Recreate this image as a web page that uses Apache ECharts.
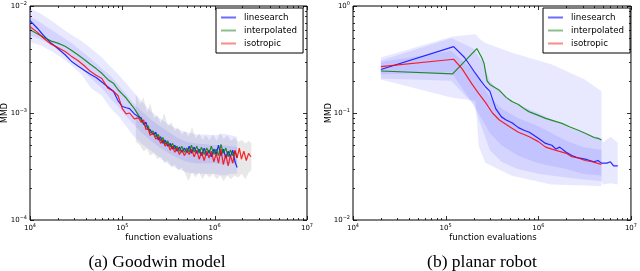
<!DOCTYPE html>
<html><head><meta charset="utf-8">
<script src="https://cdn.jsdelivr.net/npm/echarts@6/dist/echarts.min.js"></script>
<style>html,body{margin:0;padding:0;background:#fff}#c{width:640px;height:271px}</style>
</head><body><div id="c"></div>
<script>
// ---------- labels ----------
const seriesNames = ['linesearch', 'interpolated', 'isotropic'];
const captions = ['(a) Goodwin model', '(b) planar robot'];
const xTickExp = [4, 5, 6, 7];
const yTickExpG = [-4, -3, -2];
const yTickExpR = [-2, -1, 0];

// ---------- (a) Goodwin model ----------
const xG = [1.0e4,1.2e4,1.4e4,1.7e4,2.0e4,2.4e4,2.8e4,3.3e4,3.9e4,4.5e4,5.2e4,6.0e4,7.0e4,8.0e4,9.0e4,1.0e5,1.1e5,1.2e5,1.35e5,1.5e5,
  1.6e5,1.7e5,1.8e5,1.9e5,2.0e5,2.15e5,2.3e5,2.45e5,2.6e5,2.75e5,2.9e5,3.1e5,3.3e5,3.5e5,3.7e5,3.9e5,4.15e5,4.4e5,4.7e5,5.0e5,
  5.3e5,5.6e5,6.0e5,6.4e5,6.8e5,7.2e5,7.7e5,8.2e5,8.7e5,9.2e5,9.8e5,1.04e6,1.1e6,1.17e6,1.24e6,1.32e6,1.4e6,1.48e6,1.57e6,1.66e6,
  1.75e6,1.85e6,1.95e6,2.07e6,2.2e6,2.33e6,2.47e6];
const blueG = [7.3e-3,6.2e-3,5.3e-3,4.5e-3,4.0e-3,3.5e-3,3.05e-3,2.75e-3,2.5e-3,2.3e-3,2.15e-3,1.95e-3,1.75e-3,1.6e-3,1.3e-3,1.15e-3,1.12e-3,1.1e-3,9.8e-4,9.2e-4,
  9.0e-4,7.8e-4,8.2e-4,7.0e-4,7.0e-4,6.3e-4,6.6e-4,5.6e-4,6.0e-4,5.2e-4,5.6e-4,4.9e-4,5.2e-4,4.6e-4,5.0e-4,4.4e-4,4.8e-4,4.3e-4,4.7e-4,4.3e-4,
  4.9e-4,4.2e-4,4.8e-4,4.2e-4,4.6e-4,4.0e-4,4.7e-4,4.0e-4,4.5e-4,3.9e-4,4.6e-4,4.1e-4,5.0e-4,4.0e-4,4.6e-4,3.8e-4,4.4e-4,3.9e-4,4.5e-4,3.5e-4,
  3.1e-4,null,null,null,null,null,null];
const greenG = [6.0e-3,5.5e-3,5.1e-3,4.7e-3,4.5e-3,4.2e-3,3.85e-3,3.5e-3,3.15e-3,2.85e-3,2.6e-3,2.35e-3,2.05e-3,1.9e-3,1.65e-3,1.5e-3,1.38e-3,1.25e-3,1.1e-3,9.5e-4,
  8.6e-4,8.0e-4,7.4e-4,7.6e-4,6.5e-4,6.8e-4,6.0e-4,6.3e-4,5.5e-4,5.9e-4,5.1e-4,5.5e-4,4.8e-4,5.2e-4,4.6e-4,4.9e-4,4.4e-4,4.9e-4,4.3e-4,4.7e-4,
  4.3e-4,5.0e-4,4.3e-4,4.9e-4,4.2e-4,4.8e-4,4.1e-4,4.7e-4,4.2e-4,4.9e-4,4.1e-4,4.6e-4,4.0e-4,5.1e-4,4.2e-4,4.7e-4,3.9e-4,4.5e-4,4.0e-4,4.4e-4,
  3.8e-4,null,null,null,null,null,null];
const redG = [6.4e-3,5.7e-3,5.0e-3,4.4e-3,4.1e-3,3.75e-3,3.4e-3,3.1e-3,2.75e-3,2.45e-3,2.25e-3,2.1e-3,1.7e-3,1.6e-3,1.45e-3,1.1e-3,9.8e-4,1.0e-3,8.8e-4,9.0e-4,
  8.2e-4,8.6e-4,7.0e-4,7.2e-4,6.2e-4,6.5e-4,5.7e-4,6.0e-4,5.2e-4,5.6e-4,4.9e-4,5.2e-4,4.5e-4,4.9e-4,4.3e-4,4.7e-4,4.1e-4,4.5e-4,4.0e-4,4.4e-4,
  4.1e-4,4.6e-4,3.9e-4,4.5e-4,3.7e-4,4.3e-4,3.6e-4,4.4e-4,3.8e-4,4.4e-4,3.5e-4,4.2e-4,3.4e-4,4.6e-4,3.3e-4,4.1e-4,3.2e-4,4.0e-4,3.4e-4,4.5e-4,
  3.8e-4,4.7e-4,3.7e-4,4.4e-4,3.6e-4,4.2e-4,3.9e-4];
// bands (a)
const xBandG = [1e4,1.3e4,1.7e4,2.2e4,2.8e4,3.6e4,4.6e4,6e4,7.5e4,9e4,1.1e5,1.3e5,1.6e5,2e5,2.5e5,3.2e5,4e5,5e5,6.3e5,8e5,1e6,1.25e6,1.5e6,1.75e6];
const outerUpG = [9.5e-3,8.5e-3,7.3e-3,6.2e-3,5.4e-3,4.7e-3,4.0e-3,3.3e-3,2.7e-3,2.3e-3,1.9e-3,1.6e-3,1.3e-3,1.05e-3,9.0e-4,7.8e-4,7.0e-4,6.6e-4,6.3e-4,6.3e-4,6.2e-4,6.4e-4,6.2e-4,6e-4];
const outerLoG = [4.6e-3,4.3e-3,3.8e-3,3.3e-3,2.8e-3,2.3e-3,1.7e-3,1.45e-3,1.1e-3,9.5e-4,7.5e-4,6.2e-4,5.2e-4,4.5e-4,3.9e-4,3.3e-4,3.0e-4,2.8e-4,2.7e-4,2.7e-4,2.7e-4,2.6e-4,2.7e-4,2.7e-4];
const innerUpG = [8e-3,7e-3,6e-3,5.2e-3,4.5e-3,3.8e-3,3.2e-3,2.6e-3,2.2e-3,1.85e-3,1.5e-3,1.25e-3,1.05e-3,8.8e-4,7.6e-4,6.6e-4,5.8e-4,5.4e-4,5.2e-4,5.1e-4,5.0e-4,5.0e-4,4.9e-4,4.8e-4];
const innerLoG = [5.3e-3,4.9e-3,4.3e-3,3.8e-3,3.2e-3,2.6e-3,2.1e-3,1.7e-3,1.35e-3,1.15e-3,9.3e-4,8.0e-4,6.6e-4,5.6e-4,4.8e-4,4.2e-4,3.8e-4,3.5e-4,3.4e-4,3.4e-4,3.4e-4,3.3e-4,3.4e-4,3.3e-4];
const xGrayG = [1.4e5,1.55e5,1.7e5,1.85e5,2e5,2.2e5,2.4e5,2.6e5,2.85e5,3.1e5,3.4e5,3.7e5,4e5,4.4e5,4.8e5,5.2e5,5.7e5,6.2e5,6.8e5,7.4e5,8e5,8.8e5,9.6e5,1.05e6,1.15e6,1.25e6,1.37e6,1.5e6,1.64e6,1.8e6,1.97e6,2.15e6,2.35e6,2.5e6];
const grayUpG = [1.5e-3,1.2e-3,1.4e-3,1.0e-3,1.24e-3,9.0e-4,9.5e-4,8.0e-4,1.0e-3,7.5e-4,8.2e-4,6.8e-4,7.4e-4,6.3e-4,6.8e-4,6.0e-4,7.4e-4,5.8e-4,6.4e-4,5.6e-4,6.2e-4,5.6e-4,6.3e-4,5.5e-4,6.5e-4,5.7e-4,6.2e-4,5.5e-4,5.9e-4,5.4e-4,5.6e-4,5.2e-4,5.5e-4,5.2e-4];
const grayLoG = [5.4e-4,5.0e-4,4.4e-4,4.6e-4,4.0e-4,4.2e-4,3.7e-4,3.9e-4,3.4e-4,3.6e-4,3.1e-4,3.3e-4,2.9e-4,3.1e-4,2.7e-4,2.3e-4,2.8e-4,2.5e-4,2.8e-4,2.4e-4,2.7e-4,2.5e-4,2.7e-4,2.4e-4,2.6e-4,2.3e-4,2.6e-4,2.4e-4,2.6e-4,2.5e-4,2.7e-4,2.4e-4,2.8e-4,2.9e-4];

// ---------- (b) planar robot ----------
const xBlueR = [2e4,1.22e5,1.6e5,2.04e5,2.4e5,2.7e5,3e5,3.47e5,4e5,4.5e5,5.2e5,6.1e5,7e5,8e5,1e6,1.2e6,1.4e6,1.55e6,1.7e6,2e6,2.3e6,2.7e6,3.2e6,3.6e6,4e6,4.4e6,4.8e6,5.5e6,6e6,6.5e6,7.2e6];
const blueR = [0.255,0.417,0.33,0.243,0.2,0.175,0.16,0.11,0.092,0.086,0.081,0.073,0.069,0.066,0.058,0.052,0.05,0.046,0.048,0.043,0.04,0.038,0.037,0.036,0.035,0.036,0.034,0.034,0.035,0.032,0.032];
const xGreenR = [2e4,1.19e5,2.17e5,2.45e5,2.6e5,2.8e5,3e5,3.76e5,4.5e5,5.2e5,6.1e5,7e5,7.9e5,1e6,1.2e6,1.5e6,1.8e6,2.2e6,2.7e6,3.3e6,4e6,4.4e6,4.8e6];
const greenR = [0.247,0.232,0.40,0.33,0.29,0.2,0.185,0.164,0.14,0.128,0.12,0.11,0.103,0.095,0.089,0.084,0.08,0.074,0.069,0.064,0.059,0.058,0.056];
const xRedR = [2e4,1.22e5,1.5e5,1.95e5,2.3e5,2.7e5,3.2e5,3.8e5,4.5e5,5.2e5,6.1e5,7e5,8e5,1e6,1.2e6,1.4e6,1.66e6,2e6,2.3e6,2.7e6,3.2e6,3.8e6,4.3e6,4.8e6];
const redR = [0.271,0.318,0.26,0.183,0.15,0.125,0.1,0.086,0.078,0.072,0.066,0.063,0.06,0.054,0.048,0.046,0.044,0.042,0.039,0.038,0.036,0.035,0.034,0.033];
// bands (b)
const xBandA = [2e4,1.18e5,2.1e5,2.28e5,2.68e5,5.2e5,1.38e6,3.17e6,4.8e6];
const bandAUp = [0.33,0.52,0.545,0.5,0.45,0.366,0.285,0.206,0.16];
const bandALo = [0.206,0.139,0.13,0.049,0.0343,0.0259,0.0215,0.021,0.0207];
const xBandB = [2e4,1.15e5,2e5,2.5e5,3e5,4e5,6e5,1e6,2e6,3e6,4.8e6,5e6,6e6,7.2e6];
const bandBUp = [0.31,0.5,0.4,0.3,0.2,0.15,0.12,0.1,0.075,0.065,0.058,0.053,0.06,0.053];
const bandBLo = [0.21,0.2,0.12,0.07,0.045,0.035,0.03,0.027,0.025,0.024,0.023,0.0215,0.022,0.0215];
const xBandC = [2e4,1.15e5,2e5,3e5,4e5,6e5,1e6,2e6,3e6,4.8e6];
const bandCUp = [0.3,0.38,0.25,0.14,0.11,0.09,0.075,0.055,0.048,0.045];
const bandCLo = [0.23,0.24,0.12,0.065,0.05,0.04,0.034,0.03,0.027,0.026];

// ---------- styles ----------
const colors = ['rgba(20,20,255,0.9)', 'rgba(0,128,0,0.85)', 'rgba(255,0,0,0.85)'];
const legendColors = ['rgba(60,60,255,0.75)', 'rgba(60,150,60,0.6)', 'rgba(255,60,60,0.6)'];
const bandFill = 'rgba(90,90,255,0.14)';
const grayFill = 'rgba(120,120,120,0.17)';
const sans = '"DejaVu Sans", sans-serif';

function pairs(xs, ys) {
  const out = [];
  xs.forEach((x, i) => { if (ys[i] != null) out.push([x, ys[i]]); });
  return out;
}
function band(gi, xs, up, lo, fill, z) {
  return {
    type: 'custom', xAxisIndex: gi, yAxisIndex: gi, silent: true, z: z,
    data: [[xs[0], up[0]]],
    renderItem: function (params, api) {
      const pts = [];
      for (let i = 0; i < xs.length; i++) pts.push(api.coord([xs[i], up[i]]));
      for (let i = xs.length - 1; i >= 0; i--) pts.push(api.coord([xs[i], lo[i]]));
      return { type: 'polygon', shape: { points: pts }, style: { fill: fill } };
    }
  };
}
function line(gi, name, xs, ys, color, z) {
  return {
    type: 'line', name: name, xAxisIndex: gi, yAxisIndex: gi, data: pairs(xs, ys),
    symbol: 'none', z: z, lineStyle: { color: color, width: 1.2 }, itemStyle: { color: color },
    emphasis: { disabled: true }
  };
}
function ticks(gi, xe, ye) {
  const data = [];
  const x0 = Math.pow(10, xe[0]), y0 = Math.pow(10, ye[0]);
  for (let e = xe[0]; e <= xe[xe.length - 1]; e++) {
    data.push([Math.pow(10, e), y0, 1, 0]);
    if (e < xe[xe.length - 1]) for (let m = 2; m <= 9; m++) data.push([m * Math.pow(10, e), y0, 0, 0]);
  }
  for (let e = ye[0]; e <= ye[ye.length - 1]; e++) {
    data.push([x0, Math.pow(10, e), 1, 1]);
    if (e < ye[ye.length - 1]) for (let m = 2; m <= 9; m++) data.push([x0, m * Math.pow(10, e), 0, 1]);
  }
  return {
    type: 'custom', xAxisIndex: gi, yAxisIndex: gi, silent: true, z: 10, clip: false,
    encode: { x: 0, y: 1 }, data: data,
    renderItem: function (params, api) {
      const cs = params.coordSys;
      const p = api.coord([api.value(0), api.value(1)]);
      const len = api.value(2) ? 4 : 2;
      const st = { stroke: '#000', lineWidth: 0.8 };
      if (api.value(3) === 0) {
        const x = Math.round(p[0]) + 0.5;
        return { type: 'group', children: [
          { type: 'line', shape: { x1: x, y1: cs.y + cs.height, x2: x, y2: cs.y + cs.height - len }, style: st },
          { type: 'line', shape: { x1: x, y1: cs.y, x2: x, y2: cs.y + len }, style: st }
        ]};
      } else {
        const y = Math.round(p[1]) + 0.5;
        return { type: 'group', children: [
          { type: 'line', shape: { x1: cs.x, y1: y, x2: cs.x + len, y2: y }, style: st },
          { type: 'line', shape: { x1: cs.x + cs.width, y1: y, x2: cs.x + cs.width - len, y2: y }, style: st }
        ]};
      }
    }
  };
}
function expLabel(v) {
  const e = Math.round(Math.log10(v));
  return '{b|10}{s|' + String(e).replace('-', '\u2212') + '}';
}
const richLab = {
  b: { fontSize: 7, fontFamily: sans, color: '#000', lineHeight: 10 },
  s: { fontSize: 5, fontFamily: sans, color: '#000', verticalAlign: 'top', lineHeight: 10, padding: [0, 0, 4, 0] }
};
function xAx(gi, e) {
  return { gridIndex: gi, type: 'log', logBase: 10, min: Math.pow(10, e[0]), max: Math.pow(10, e[e.length - 1]),
    axisLine: { show: false }, axisTick: { show: false }, splitLine: { show: false },
    axisLabel: { formatter: expLabel, rich: richLab, margin: 3 } };
}
function yAx(gi, e) {
  return { gridIndex: gi, type: 'log', logBase: 10, min: Math.pow(10, e[0]), max: Math.pow(10, e[e.length - 1]),
    axisLine: { show: false }, axisTick: { show: false }, splitLine: { show: false },
    axisLabel: { formatter: expLabel, rich: richLab, margin: 3 } };
}
function legend(left) {
  return {
    left: left, top: 8, orient: 'vertical', itemWidth: 15, itemHeight: 2, itemGap: 2, icon: 'rect',
    padding: [4, 6, 4, 5], borderColor: '#000', borderWidth: 1, backgroundColor: '#fff', selectedMode: false,
    textStyle: { fontFamily: sans, fontSize: 8.7, color: '#000', padding: [0, 0, 0, 3], lineHeight: 11 },
    data: seriesNames.map((n, i) => ({ name: n, itemStyle: { color: legendColors[i] } }))
  };
}

const option = {
  animation: false,
  backgroundColor: '#fff',
  grid: [
    { left: 30, top: 6, width: 277, height: 214, show: true, borderColor: '#000', borderWidth: 1, backgroundColor: 'transparent' },
    { left: 353, top: 6, width: 280, height: 214, show: true, borderColor: '#000', borderWidth: 1, backgroundColor: 'transparent' }
  ],
  xAxis: [xAx(0, xTickExp), xAx(1, xTickExp)],
  yAxis: [yAx(0, yTickExpG), yAx(1, yTickExpR)],
  legend: [legend(216), legend(543)],
  series: [
    band(0, xGrayG, grayUpG, grayLoG, grayFill, 1),
    band(0, xBandG, outerUpG, outerLoG, bandFill, 1),
    band(0, xBandG, innerUpG, innerLoG, bandFill, 1),
    line(0, seriesNames[0], xG, blueG, colors[0], 3),
    line(0, seriesNames[1], xG, greenG, colors[1], 3),
    line(0, seriesNames[2], xG, redG, colors[2], 4),
    ticks(0, xTickExp, yTickExpG),
    band(1, xBandA, bandAUp, bandALo, bandFill, 1),
    band(1, xBandB, bandBUp, bandBLo, bandFill, 1),
    band(1, xBandC, bandCUp, bandCLo, bandFill, 1),
    line(1, seriesNames[1], xGreenR, greenR, colors[1], 3),
    line(1, seriesNames[0], xBlueR, blueR, colors[0], 3),
    line(1, seriesNames[2], xRedR, redR, colors[2], 4),
    ticks(1, xTickExp, yTickExpR)
  ],
  graphic: [
    { type: 'text', x: 5, y: 113, rotation: Math.PI / 2, style: { text: 'MMD', font: '8px ' + sans, fill: '#000', textAlign: 'center', textVerticalAlign: 'middle' } },
    { type: 'text', x: 329, y: 113, rotation: Math.PI / 2, style: { text: 'MMD', font: '8px ' + sans, fill: '#000', textAlign: 'center', textVerticalAlign: 'middle' } },
    { type: 'text', x: 169, y: 238, style: { text: 'function evaluations', font: '8.6px ' + sans, fill: '#000', textAlign: 'center', textVerticalAlign: 'middle' } },
    { type: 'text', x: 493, y: 238, style: { text: 'function evaluations', font: '8.6px ' + sans, fill: '#000', textAlign: 'center', textVerticalAlign: 'middle' } },
    { type: 'text', x: 157, y: 262, style: { text: captions[0], font: '17.5px "Liberation Serif", serif', fill: '#000', textAlign: 'center', textVerticalAlign: 'middle' } },
    { type: 'text', x: 482, y: 262, style: { text: captions[1], font: '17.5px "Liberation Serif", serif', fill: '#000', textAlign: 'center', textVerticalAlign: 'middle' } }
  ]
};
const chart = echarts.init(document.getElementById('c'), null, { renderer: 'canvas' });
chart.setOption(option);
</script>
</body></html>
